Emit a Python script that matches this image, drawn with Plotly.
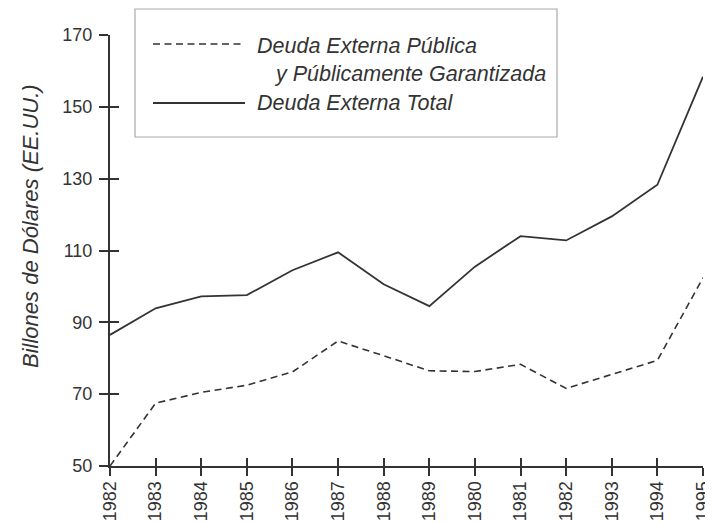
import plotly.graph_objects as go

# ---- data ----
years = ["1982", "1983", "1984", "1985", "1986", "1987", "1988", "1989",
         "1980", "1981", "1982", "1993", "1994", "1995"]
deuda_total = [86.5, 93.9, 97.2, 97.6, 104.5, 109.5, 100.6, 94.5,
               105.5, 114.0, 112.8, 119.5, 128.3, 158.4]
deuda_publica = [50.0, 67.5, 70.5, 72.5, 76.2, 84.8, 80.7, 76.5,
                 76.3, 78.3, 71.6, 75.4, 79.4, 102.4]
y_ticks = [50, 70, 90, 110, 130, 150, 170]

x_idx = list(range(len(years)))

# page has an 8px body margin: figure is drawn offset by OFF
OFF = 8
W, H = 713 - OFF, 522 - OFF
# plot area in page pixels: x 110..703, y 35..466
ML, MT = 110 - OFF, 35 - OFF
MR = W - (703 - OFF)
MB = H - (466 - OFF)
PW, PH = W - ML - MR, H - MT - MB


def px(x):  # page pixel x -> paper
    return (x - OFF - ML) / PW


def py(y):  # page pixel y -> paper
    return (H - MB - (y - OFF)) / PH


INK = "#333333"
FONT = "Liberation Sans, Arial, Helvetica, sans-serif"
DASH = "7px,4.5px"

fig = go.Figure()
fig.add_trace(go.Scatter(x=x_idx, y=deuda_publica, mode="lines",
                         line=dict(color=INK, width=1.6, dash=DASH),
                         showlegend=False, hoverinfo="skip"))
fig.add_trace(go.Scatter(x=x_idx, y=deuda_total, mode="lines",
                         line=dict(color=INK, width=1.8),
                         showlegend=False, hoverinfo="skip"))
# invisible helper traces so the overlay axes (inner half of ticks) are drawn
fig.add_trace(go.Scatter(x=x_idx, y=deuda_total, xaxis="x2", yaxis="y",
                         mode="lines", opacity=0, showlegend=False,
                         hoverinfo="skip"))
fig.add_trace(go.Scatter(x=x_idx, y=deuda_total, xaxis="x", yaxis="y2",
                         mode="lines", opacity=0, showlegend=False,
                         hoverinfo="skip"))

axis_common = dict(showgrid=False, zeroline=False, linecolor=INK, linewidth=2,
                   tickcolor=INK, tickwidth=2, automargin=False)

fig.update_layout(
    width=W, height=H,
    margin=dict(l=ML, r=MR, t=MT, b=MB),
    paper_bgcolor="white", plot_bgcolor="white",
    font=dict(family=FONT, color=INK, size=18),
    xaxis=dict(range=[0, len(years) - 1], tickmode="array", tickvals=x_idx,
               ticktext=years, tickangle=-90, ticks="outside", ticklen=8,
               showline=True, tickfont=dict(size=18), ticklabelstandoff=-2,
               **axis_common),
    yaxis=dict(range=[50, 170], tickmode="array", tickvals=y_ticks,
               ticks="outside", ticklen=9, showline=True,
               tickfont=dict(size=18), ticklabelstandoff=3,
               **axis_common),
    xaxis2=dict(range=[0, len(years) - 1], overlaying="x", anchor="y",
                side="bottom", tickmode="array", tickvals=x_idx,
                ticks="inside", ticklen=8, showticklabels=False,
                showline=False, showgrid=False, zeroline=False,
                tickcolor=INK, tickwidth=2, automargin=False),
    yaxis2=dict(range=[50, 170], overlaying="y", anchor="x", side="left",
                tickmode="array", tickvals=y_ticks, ticks="inside",
                ticklen=9, showticklabels=False, showline=False,
                showgrid=False, zeroline=False, tickcolor=INK, tickwidth=2,
                automargin=False),
)

# y-axis title (as rotated annotation, centered where the reference has it)
fig.add_annotation(text="<i>Billones de Dólares (EE.UU.)</i>",
                   xref="paper", yref="paper", x=px(30), y=py(226),
                   xanchor="center", yanchor="middle", textangle=-90,
                   showarrow=False, font=dict(size=22, family=FONT, color=INK))

# custom legend box (page pixel positions)
shapes = [
    dict(type="rect", xref="paper", yref="paper",
         x0=px(135), x1=px(557), y0=py(137), y1=py(9),
         line=dict(color="#aaaaaa", width=1.2), fillcolor="white", layer="above"),
    dict(type="line", xref="paper", yref="paper",
         x0=px(153), x1=px(245), y0=py(44), y1=py(44),
         line=dict(color=INK, width=1.6, dash=DASH)),
    dict(type="line", xref="paper", yref="paper",
         x0=px(153), x1=px(245), y0=py(103), y1=py(103),
         line=dict(color=INK, width=1.8)),
]
fig.update_layout(shapes=shapes)

legend_texts = [
    ("<i>Deuda Externa Pública</i>", 255, 46),
    ("<i>y Públicamente Garantizada</i>", 272, 74),
    ("<i>Deuda Externa Total</i>", 255, 103),
]
for txt, lx, ly in legend_texts:
    fig.add_annotation(text=txt, xref="paper", yref="paper", x=px(lx), y=py(ly),
                       xanchor="left", yanchor="middle", showarrow=False,
                       font=dict(size=21.5, family=FONT, color=INK))

fig.write_html("out.html")
